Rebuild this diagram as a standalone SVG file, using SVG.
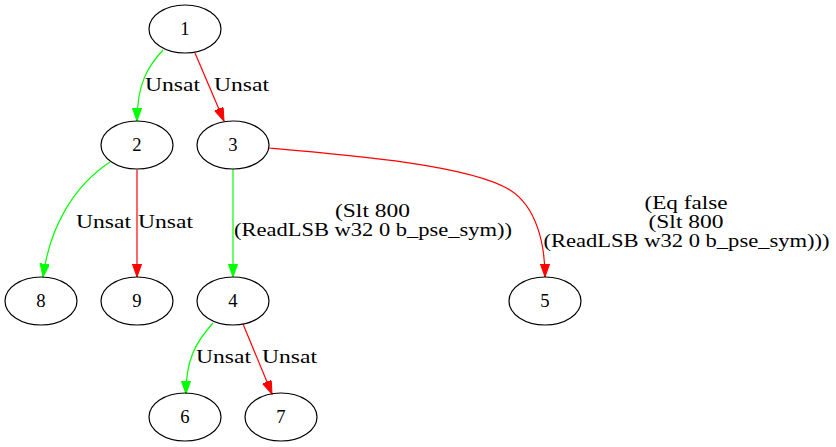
<svg xmlns="http://www.w3.org/2000/svg" width="836" height="447" viewBox="0 0 836 447">
<defs>
<marker id="ag" markerUnits="userSpaceOnUse" markerWidth="14" markerHeight="10" refX="13.3" refY="4.7" orient="auto"><path d="M0,0 L13.3,4.7 L0,9.4 z" fill="#00ff00" stroke="#00ff00"/></marker>
<marker id="ar" markerUnits="userSpaceOnUse" markerWidth="14" markerHeight="10" refX="13.3" refY="4.7" orient="auto"><path d="M0,0 L13.3,4.7 L0,9.4 z" fill="#ff0000" stroke="#ff0000"/></marker>
</defs>
<g id="edges" fill="none" stroke-width="1.2">
<path stroke="#00ff00" d="M163,50 C148,66 137,84 137,121" marker-end="url(#ag)"/>
<path stroke="#ff0000" d="M195,53 L224,121" marker-end="url(#ar)"/>
<path stroke="#00ff00" d="M110,162 C75,185 50,225 43,277" marker-end="url(#ag)"/>
<path stroke="#ff0000" d="M137,169.5 L137,277" marker-end="url(#ar)"/>
<path stroke="#00ff00" d="M233,169 L233,277" marker-end="url(#ag)"/>
<path stroke="#ff0000" d="M269,148 C350,155 470,165 510,190 C537,207 545,245 545,277" marker-end="url(#ar)"/>
<path stroke="#00ff00" d="M213,323 C195,343 186,360 186,394" marker-end="url(#ag)"/>
<path stroke="#ff0000" d="M243,324 L272,394" marker-end="url(#ar)"/>
</g>
<text x="145" y="91" font-family="Liberation Serif" font-size="18.67" textLength="55" lengthAdjust="spacingAndGlyphs">Unsat</text>
<text x="214" y="91" font-family="Liberation Serif" font-size="18.67" textLength="55" lengthAdjust="spacingAndGlyphs">Unsat</text>
<text x="76" y="228" font-family="Liberation Serif" font-size="18.67" textLength="55" lengthAdjust="spacingAndGlyphs">Unsat</text>
<text x="138" y="228" font-family="Liberation Serif" font-size="18.67" textLength="55" lengthAdjust="spacingAndGlyphs">Unsat</text>
<text x="335" y="217" font-family="Liberation Serif" font-size="18.67" textLength="75" lengthAdjust="spacingAndGlyphs">(Slt 800</text>
<text x="234" y="236" font-family="Liberation Serif" font-size="18.67" textLength="278" lengthAdjust="spacingAndGlyphs">(ReadLSB w32 0 b_pse_sym))</text>
<text x="644.5" y="209" font-family="Liberation Serif" font-size="18.67" textLength="83" lengthAdjust="spacingAndGlyphs">(Eq false</text>
<text x="648.5" y="228" font-family="Liberation Serif" font-size="18.67" textLength="75" lengthAdjust="spacingAndGlyphs">(Slt 800</text>
<text x="543.5" y="247" font-family="Liberation Serif" font-size="18.67" textLength="286" lengthAdjust="spacingAndGlyphs">(ReadLSB w32 0 b_pse_sym)))</text>
<text x="196" y="363" font-family="Liberation Serif" font-size="18.67" textLength="55" lengthAdjust="spacingAndGlyphs">Unsat</text>
<text x="262" y="363" font-family="Liberation Serif" font-size="18.67" textLength="55" lengthAdjust="spacingAndGlyphs">Unsat</text>
<g id="n1"><ellipse cx="185" cy="29" rx="36" ry="24" fill="none" stroke="#000" stroke-width="1.2"/><text x="185" y="35" font-family="Liberation Serif" font-size="18.67" text-anchor="middle">1</text></g>
<g id="n2"><ellipse cx="137" cy="145" rx="36" ry="24" fill="none" stroke="#000" stroke-width="1.2"/><text x="137" y="151" font-family="Liberation Serif" font-size="18.67" text-anchor="middle">2</text></g>
<g id="n3"><ellipse cx="233" cy="145" rx="36" ry="24" fill="none" stroke="#000" stroke-width="1.2"/><text x="233" y="151" font-family="Liberation Serif" font-size="18.67" text-anchor="middle">3</text></g>
<g id="n8"><ellipse cx="41" cy="301" rx="36" ry="24" fill="none" stroke="#000" stroke-width="1.2"/><text x="41" y="307" font-family="Liberation Serif" font-size="18.67" text-anchor="middle">8</text></g>
<g id="n9"><ellipse cx="137" cy="301" rx="36" ry="24" fill="none" stroke="#000" stroke-width="1.2"/><text x="137" y="307" font-family="Liberation Serif" font-size="18.67" text-anchor="middle">9</text></g>
<g id="n4"><ellipse cx="233" cy="301" rx="36" ry="24" fill="none" stroke="#000" stroke-width="1.2"/><text x="233" y="307" font-family="Liberation Serif" font-size="18.67" text-anchor="middle">4</text></g>
<g id="n5"><ellipse cx="545" cy="301" rx="36" ry="24" fill="none" stroke="#000" stroke-width="1.2"/><text x="545" y="307" font-family="Liberation Serif" font-size="18.67" text-anchor="middle">5</text></g>
<g id="n6"><ellipse cx="185" cy="417" rx="36" ry="24" fill="none" stroke="#000" stroke-width="1.2"/><text x="185" y="423" font-family="Liberation Serif" font-size="18.67" text-anchor="middle">6</text></g>
<g id="n7"><ellipse cx="281" cy="417" rx="36" ry="24" fill="none" stroke="#000" stroke-width="1.2"/><text x="281" y="423" font-family="Liberation Serif" font-size="18.67" text-anchor="middle">7</text></g>
</svg>
